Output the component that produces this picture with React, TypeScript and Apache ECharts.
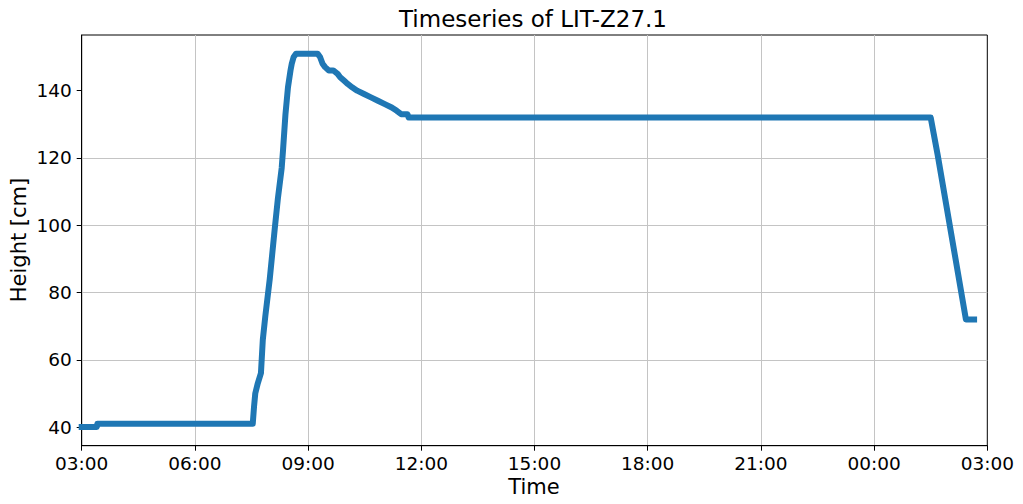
import React, { useEffect, useRef } from "react";
import * as echarts from "echarts";

// Time of day (crossing midnight) and water height in cm
const times = [
  "03:00", "03:24", "03:25", "07:32", "07:34", "07:36", "07:40", "07:45", "07:48",
  "07:52", "07:59", "08:07", "08:12", "08:18", "08:20", "08:24", "08:28", "08:32",
  "08:34", "08:37", "08:41", "09:15", "09:19", "09:23", "09:27", "09:33", "09:40",
  "09:47", "09:51", "09:57", "10:03", "10:10", "10:18", "10:29", "10:40", "10:51",
  "11:02", "11:13", "11:21", "11:28", "11:38", "11:40", "01:30", "01:41", "02:26",
  "02:39",
];
const heights = [
  40, 40, 41, 41, 46, 50, 53, 56, 66,
  73, 84, 99, 108, 117, 122, 133, 141, 146,
  148, 150, 151, 151, 150, 148, 147, 146, 146,
  145, 144, 143, 142, 141, 140, 139, 138, 137,
  136, 135, 134, 133, 133, 132, 132, 121, 72,
  72,
];
const xTicks = [3, 6, 9, 12, 15, 18, 21, 24, 27];
const yTicks = [40, 60, 80, 100, 120, 140];

const titleText = "Timeseries of LIT-Z27.1";
const xName = "Time";
const yName = "Height [cm]";

function toHours(t: string, i: number): number {
  const [h, m] = t.split(":").map(Number);
  let v = h + m / 60;
  if (i > 0 && v < 3) v += 24;
  return v;
}

const FONT = "DejaVu Sans";

export default function App() {
  const ref = useRef<HTMLDivElement>(null);
  useEffect(() => {
    if (!ref.current) return;
    const chart = echarts.init(ref.current, undefined, { renderer: "svg" });
    const data = times.map((t, i) => [toHours(t, i), heights[i]]);
    const left = 81.7;
    const right = 987.3;
    const top = 35;
    const bottom = 445.7;
    chart.setOption({
      animation: false,
      backgroundColor: "#ffffff",
      grid: {
        left: left,
        top: top,
        width: right - left,
        height: bottom - top,
        show: true,
        borderColor: "#000000",
        borderWidth: 1,
        backgroundColor: "transparent",
        containLabel: false,
      },
      xAxis: {
        type: "value",
        min: xTicks[0],
        max: xTicks[xTicks.length - 1],
        interval: 3,
        axisLine: { show: true, onZero: false, lineStyle: { color: "#000", width: 1 } },
        axisTick: { show: true, length: 5, lineStyle: { color: "#000", width: 1 } },
        axisLabel: {
          margin: 8,
          fontFamily: FONT,
          fontSize: 18.5,
          color: "#000",
          formatter: (v: number) => {
            const h = Math.round(v) % 24;
            return (h < 10 ? "0" : "") + h + ":00";
          },
        },
        splitLine: {
          show: true,
          showMinLine: false,
          showMaxLine: false,
          lineStyle: { color: "#c4c4c4", width: 1 },
        },
      },
      yAxis: {
        type: "value",
        min: 34.45,
        max: 156.55,
        axisLine: { show: true, lineStyle: { color: "#000", width: 1 } },
        axisTick: {
          show: true,
          length: 5,
          customValues: yTicks,
          lineStyle: { color: "#000", width: 1 },
        },
        axisLabel: {
          margin: 10,
          fontFamily: FONT,
          fontSize: 18.5,
          color: "#000",
          customValues: yTicks,
        },
        splitLine: {
          show: true,
          showMinLine: false,
          showMaxLine: false,
          lineStyle: { color: "#c4c4c4", width: 1 },
        },
      },
      series: [
        {
          type: "line",
          data: data,
          showSymbol: false,
          clip: true,
          lineStyle: { color: "#1f77b4", width: 6, cap: "square", join: "round" },
        },
      ],
      graphic: [
        {
          type: "text",
          x: 533,
          y: 19,
          style: {
            text: titleText,
            fontFamily: FONT,
            fontSize: 23,
            fill: "#000",
            align: "center",
            verticalAlign: "middle",
          },
        },
        {
          type: "text",
          x: 534,
          y: 486.5,
          style: {
            text: xName,
            fontFamily: FONT,
            fontSize: 21,
            fill: "#000",
            align: "center",
            verticalAlign: "middle",
          },
        },
        {
          type: "text",
          x: 19,
          y: 240,
          rotation: Math.PI / 2,
          style: {
            text: yName,
            fontFamily: FONT,
            fontSize: 21,
            fill: "#000",
            align: "center",
            verticalAlign: "middle",
          },
        },
      ],
    });
    return () => chart.dispose();
  }, []);
  return (
    <div
      ref={ref}
      style={{ position: "fixed", left: 0, top: 0, width: 1023, height: 504, background: "#fff" }}
    />
  );
}
